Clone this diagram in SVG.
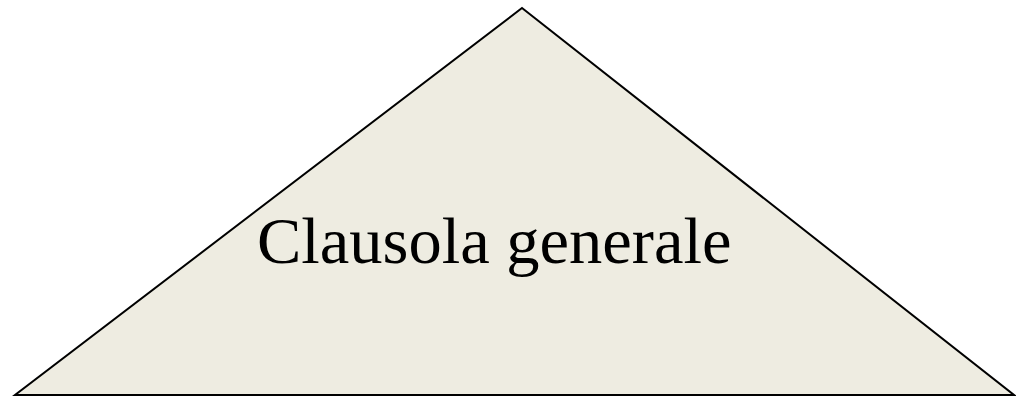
<svg xmlns="http://www.w3.org/2000/svg" width="1016" height="398" viewBox="0 0 1016 398">
<style>
.tri{fill:#EEECE1;stroke:#000;stroke-width:2;stroke-linejoin:miter}
.lbl{font-family:"Liberation Serif","Times New Roman",serif;font-size:66.5px;fill:#000}
</style>
<rect width="1016" height="398" fill="#fff"/>
<g id="triangle">
<polygon class="tri" points="522,8 1014,395 15,395"/>
<text class="lbl" x="257" y="263">Clausola generale</text>
</g>
</svg>
